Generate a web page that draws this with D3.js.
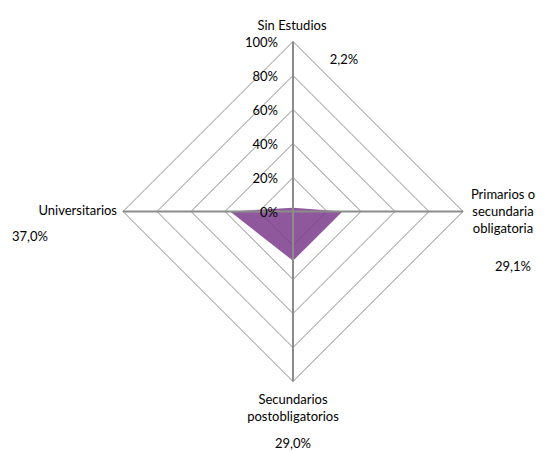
<!DOCTYPE html>
<html>
<head>
<meta charset="utf-8">
<script src="https://cdn.jsdelivr.net/npm/d3@7"></script>
<style>
  body { margin: 0; background: #fff; }
  text { font-family: Lato, 'Open Sans', sans-serif; font-size: 13px; fill: #000; }
</style>
</head>
<body>
<svg id="chart" width="546" height="453"></svg>
<script>
var categories = [ 'Sin Estudios', 'Primarios o secundaria obligatoria', 'Secundarios postobligatorios', 'Universitarios' ];
var values = [ 2.2, 29.1, 29.0, 37.0 ];
var valueLabels = [ '2,2%', '29,1%', '29,0%', '37,0%' ];
var ticks = [ 0, 20, 40, 60, 80, 100 ];

var svg = d3.select( '#chart' ),
  cx = 293, cy = 211.5, radius = 170;

var r = d3.scaleLinear().domain( [ 0, 100 ] ).range( [ 0, radius ] );
var angle = d3.scaleBand().domain( categories ).range( [ 0, 2 * Math.PI ] );

function pt( cat, v ) {
  var a = angle( cat );
  return [ cx + r( v ) * Math.sin( a ), cy - r( v ) * Math.cos( a ) ];
}

var g = svg.append( 'g' );

// grid rings
g.selectAll( '.ring' )
  .data( ticks.slice( 1 ) )
  .enter().append( 'polygon' )
    .attr( 'class', 'ring' )
    .attr( 'points', t => categories.map( c => pt( c, t ).join( ',' ) ).join( ' ' ) )
    .style( 'fill', 'none' )
    .style( 'stroke', '#8c8c8c' )
    .style( 'stroke-width', 1 );

// data polygon
g.append( 'polygon' )
  .attr( 'points', categories.map( ( c, i ) => pt( c, values[ i ] ).join( ',' ) ).join( ' ' ) )
  .style( 'fill', '#7b3b8c' )
  .style( 'fill-opacity', 0.85 );

// axes
g.selectAll( '.axis' )
  .data( categories )
  .enter().append( 'line' )
    .attr( 'class', 'axis' )
    .attr( 'x1', cx ).attr( 'y1', cy )
    .attr( 'x2', d => pt( d, 100 )[ 0 ] )
    .attr( 'y2', d => pt( d, 100 )[ 1 ] )
    .style( 'stroke', '#8c8c8c' )
    .style( 'stroke-width', 2 );

// tick labels
g.selectAll( '.tick' )
  .data( ticks )
  .enter().append( 'text' )
    .attr( 'x', cx - 15 )
    .attr( 'y', d => cy - r( d ) + 5 )
    .attr( 'text-anchor', 'end' )
    .text( d => d + '%' );

// category labels
var catLabels = [
  { lines: [ 'Sin Estudios' ], x: 292, y: 30, anchor: 'middle' },
  { lines: [ 'Primarios o', 'secundaria', 'obligatoria' ], x: 503, y: 199, anchor: 'middle' },
  { lines: [ 'Secundarios', 'postobligatorios' ], x: 293, y: 404, anchor: 'middle' },
  { lines: [ 'Universitarios' ], x: 117, y: 215, anchor: 'end' }
];
var valPos = [ [ 344, 64 ], [ 513, 271 ], [ 293, 448 ], [ 30, 241 ] ];

catLabels.forEach( function( l ) {
  var t = g.append( 'text' )
    .attr( 'text-anchor', l.anchor );
  l.lines.forEach( ( s, i ) => t.append( 'tspan' ).attr( 'x', l.x ).attr( 'y', l.y + i * 17 ).text( s ) );
} );

g.selectAll( '.vlab' )
  .data( valueLabels )
  .enter().append( 'text' )
    .attr( 'x', ( d, i ) => valPos[ i ][ 0 ] )
    .attr( 'y', ( d, i ) => valPos[ i ][ 1 ] )
    .attr( 'text-anchor', 'middle' )
    .text( d => d );
</script>
</body>
</html>
